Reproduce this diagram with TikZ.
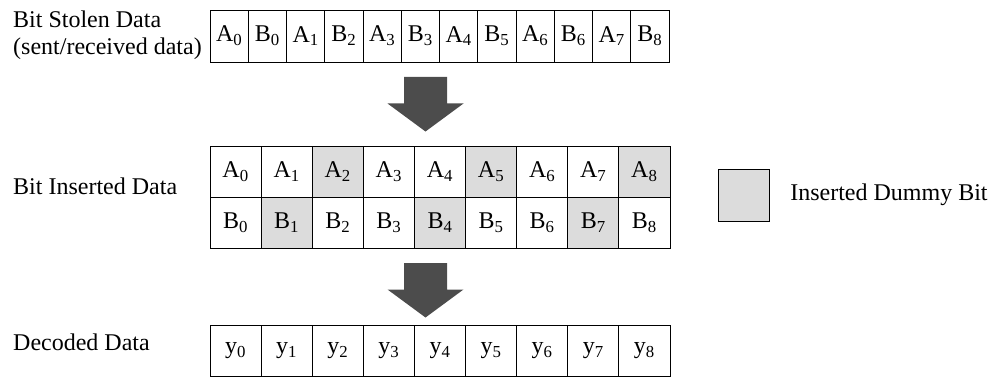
\documentclass[tikz,border=0pt]{standalone}
\usepackage{fontspec}
\setmainfont{Liberation Serif}
\usetikzlibrary{positioning}
\definecolor{dummygray}{RGB}{220,220,220}
\tikzstyle{stolencell} = [rectangle, draw=black, line width=0.8pt, minimum width=38.25pt, minimum height=52pt, inner sep=0pt, outer sep=0pt, text centered]
\tikzstyle{bitcell} = [rectangle, draw=black, line width=0.8pt, minimum width=51.1pt, minimum height=51pt, inner sep=0pt, outer sep=0pt, text centered]
\tikzstyle{dummycell} = [bitcell, fill=dummygray]
\tikzstyle{rowtitle} = [anchor=base west, inner sep=0pt]
\tikzstyle{arrowfill} = [fill=black!70]
\newcommand{\blockarrow}[1]{\fill[arrowfill] (#1) ++(-21.5,0) -- ++(43,0) -- ++(0,26.5) -- ++(16.5,0) -- ++(-38,28) -- ++(-38,-28) -- ++(16.5,0) -- cycle;}

\begin{document}
\begin{tikzpicture}[x=1pt, y=-1pt, font=\fontsize{24}{28}\selectfont]
\useasboundingbox (0,0) rectangle (995,377);

% row titles
\node (stolentitle) [rowtitle] at (13,28) {Bit Stolen Data};
\node (stolensub) [rowtitle] at (13,55) {(sent/received data)};
\node (insertedtitle) [rowtitle] at (13,194) {Bit Inserted Data};
\node (decodedtitle) [rowtitle] at (13,350) {Decoded Data};

% bit stolen data
\node (s0) [stolencell, anchor=north west] at (210,10) {A\textsubscript{0}};
\node (s1) [stolencell, right=0pt of s0] {B\textsubscript{0}};
\node (s2) [stolencell, right=0pt of s1] {A\textsubscript{1}};
\node (s3) [stolencell, right=0pt of s2] {B\textsubscript{2}};
\node (s4) [stolencell, right=0pt of s3] {A\textsubscript{3}};
\node (s5) [stolencell, right=0pt of s4] {B\textsubscript{3}};
\node (s6) [stolencell, right=0pt of s5] {A\textsubscript{4}};
\node (s7) [stolencell, right=0pt of s6] {B\textsubscript{5}};
\node (s8) [stolencell, right=0pt of s7] {A\textsubscript{6}};
\node (s9) [stolencell, right=0pt of s8] {B\textsubscript{6}};
\node (s10) [stolencell, right=0pt of s9] {A\textsubscript{7}};
\node (s11) [stolencell, right=0pt of s10] {B\textsubscript{8}};

% bit inserted data
\node (a0) [bitcell, anchor=north west] at (210,146) {A\textsubscript{0}};
\node (a1) [bitcell, right=0pt of a0] {A\textsubscript{1}};
\node (a2) [dummycell, right=0pt of a1] {A\textsubscript{2}};
\node (a3) [bitcell, right=0pt of a2] {A\textsubscript{3}};
\node (a4) [bitcell, right=0pt of a3] {A\textsubscript{4}};
\node (a5) [dummycell, right=0pt of a4] {A\textsubscript{5}};
\node (a6) [bitcell, right=0pt of a5] {A\textsubscript{6}};
\node (a7) [bitcell, right=0pt of a6] {A\textsubscript{7}};
\node (a8) [dummycell, right=0pt of a7] {A\textsubscript{8}};

\node (b0) [bitcell, below=0pt of a0] {B\textsubscript{0}};
\node (b1) [dummycell, right=0pt of b0] {B\textsubscript{1}};
\node (b2) [bitcell, right=0pt of b1] {B\textsubscript{2}};
\node (b3) [bitcell, right=0pt of b2] {B\textsubscript{3}};
\node (b4) [dummycell, right=0pt of b3] {B\textsubscript{4}};
\node (b5) [bitcell, right=0pt of b4] {B\textsubscript{5}};
\node (b6) [bitcell, right=0pt of b5] {B\textsubscript{6}};
\node (b7) [dummycell, right=0pt of b6] {B\textsubscript{7}};
\node (b8) [bitcell, right=0pt of b7] {B\textsubscript{8}};

% decoded data
\node (y0) [bitcell, anchor=north west] at (210,325) {y\textsubscript{0}};
\node (y1) [bitcell, right=0pt of y0] {y\textsubscript{1}};
\node (y2) [bitcell, right=0pt of y1] {y\textsubscript{2}};
\node (y3) [bitcell, right=0pt of y2] {y\textsubscript{3}};
\node (y4) [bitcell, right=0pt of y3] {y\textsubscript{4}};
\node (y5) [bitcell, right=0pt of y4] {y\textsubscript{5}};
\node (y6) [bitcell, right=0pt of y5] {y\textsubscript{6}};
\node (y7) [bitcell, right=0pt of y6] {y\textsubscript{7}};
\node (y8) [bitcell, right=0pt of y7] {y\textsubscript{8}};

% legend
\node (legendbox) [dummycell, minimum height=52pt, anchor=north west] at (718,169) {};
\node (legendtext) [right=21pt of legendbox, inner sep=0pt] {Inserted Dummy Bit};

% block arrows
\coordinate (arrowtop1) at (425.5,77);
\coordinate (arrowtop2) at (425.5,263);
\blockarrow{arrowtop1}
\blockarrow{arrowtop2}

\end{tikzpicture}
\end{document}
